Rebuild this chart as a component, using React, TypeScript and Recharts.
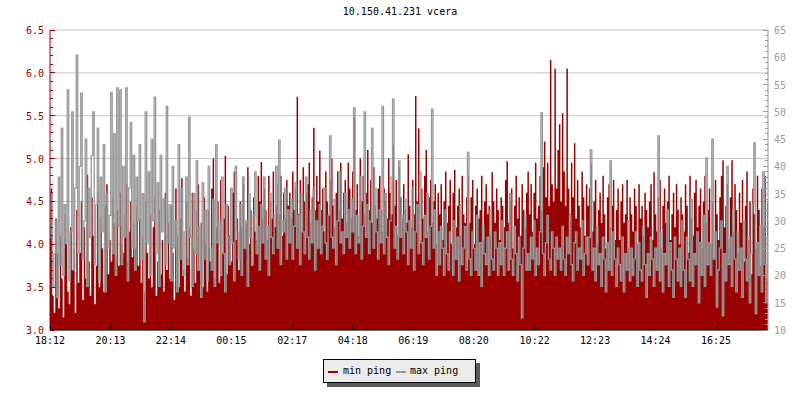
import React from 'react';
import { ComposedChart, Area, Line, XAxis, YAxis, CartesianGrid } from 'recharts';

// min ping (left axis, ms) - one value every 3 minutes, one row per hour
const minPing = [
  4.15, 4.65, 3.4, 3.2, 4.3, 3.9, 3.25, 4.1, 3.6, 3.15, 4.35, 4.0, 3.45, 3.3, 4.2, 3.7, 3.95, 3.2, 4.4, 3.55,
  3.9, 4.5, 3.35, 4.2, 3.6, 4.81, 3.8, 3.4, 4.55, 4.1, 3.3, 3.75, 4.6, 3.5, 4.3, 3.95, 3.45, 4.45, 4.7, 3.65,
  4.05, 3.8, 4.55, 4.25, 3.85, 4.4, 3.75, 4.6, 4.0, 3.9, 4.35, 4.7, 3.8, 4.15, 4.5, 3.85, 4.25, 3.95, 4.45, 3.75,
  4.3, 3.55, 4.1, 3.45, 4.5, 3.9, 3.6, 4.35, 3.5, 4.2, 4.55, 3.4, 3.8, 4.4, 3.65, 4.05, 3.45, 4.6, 3.7, 4.25,
  3.6, 4.45, 3.9, 3.35, 4.65, 4.1, 3.5, 4.3, 4.77, 3.7, 3.45, 4.5, 3.85, 4.2, 3.4, 4.6, 3.95, 3.55, 4.4, 4.7,
  3.7, 4.25, 3.5, 4.55, 4.0, 3.45, 4.4, 3.8, 4.65, 5.0, 3.6, 4.2, 4.5, 3.55, 4.75, 3.9, 4.3, 5.03, 3.65, 4.45,
  4.1, 3.8, 4.6, 4.85, 4.05, 4.3, 3.7, 4.5, 4.2, 4.7, 3.95, 4.25, 4.9, 4.0, 4.4, 3.75, 4.55, 4.15, 4.05, 4.8,
  4.5, 4.96, 4.3, 4.65, 4.4, 4.05, 4.8, 4.5, 4.3, 4.85, 4.2, 4.45, 4.7, 4.35, 4.8, 4.1, 4.6, 4.3, 4.75, 4.45,
  4.6, 4.3, 4.85, 4.4, 4.65, 5.72, 4.35, 4.75, 4.15, 4.9, 4.5, 4.6, 4.7, 4.95, 4.25, 4.55, 5.36, 4.4, 4.8, 4.5,
  5.09, 4.4, 4.65, 4.15, 4.85, 4.5, 4.35, 4.75, 5.0, 4.45, 4.2, 4.6, 4.85, 4.4, 4.95, 4.3, 4.6, 4.75, 4.25, 4.95,
  4.65, 4.3, 4.85, 5.48, 4.4, 4.7, 4.1, 5.0, 4.5, 4.8, 4.35, 4.6, 5.1, 4.4, 4.75, 4.25, 4.9, 4.45, 4.3, 4.65,
  4.8, 4.4, 4.15, 4.65, 4.5, 4.3, 5.0, 4.6, 4.35, 5.16, 4.45, 4.75, 4.1, 4.9, 4.55, 4.3, 4.7, 4.4, 4.25, 5.05,
  4.45, 4.2, 4.75, 4.35, 5.73, 4.5, 5.35, 4.05, 4.65, 4.3, 4.8, 5.1, 4.15, 4.55, 4.75, 4.25, 4.5, 4.7, 4.0, 4.6,
  4.35, 4.7, 4.05, 4.5, 4.85, 4.25, 4.45, 4.75, 4.0, 4.6, 4.87, 4.2, 4.45, 4.65, 4.1, 4.8, 4.35, 4.25, 4.55, 4.8,
  4.25, 4.55, 4.75, 4.0, 4.45, 4.65, 4.3, 4.4, 4.8, 4.05, 4.5, 4.7, 4.35, 4.45, 4.1, 4.84, 4.5, 4.25, 4.65, 4.4,
  4.05, 4.55, 4.45, 4.2, 4.75, 4.97, 4.25, 4.5, 4.65, 3.95, 4.45, 4.8, 4.3, 4.55, 4.1, 4.7, 4.4, 4.2, 4.6, 4.85,
  4.35, 4.7, 4.15, 4.6, 4.95, 4.3, 4.45, 4.8, 4.4, 4.9, 5.2, 4.55, 4.95, 4.45, 6.15, 4.7, 4.5, 6.05, 4.65, 5.1,
  5.4, 4.5, 5.53, 4.85, 4.45, 6.05, 4.65, 4.35, 4.95, 4.55, 5.18, 4.3, 4.75, 4.45, 4.2, 4.85, 4.55, 4.1, 4.7, 4.45,
  4.65, 4.94, 4.15, 4.5, 4.75, 4.0, 4.4, 4.6, 4.25, 4.8, 4.35, 3.95, 4.55, 4.7, 4.2, 4.45, 4.75, 4.05, 4.4, 4.65,
  4.05, 4.5, 4.7, 4.25, 4.35, 4.75, 3.95, 4.55, 4.35, 4.15, 4.65, 4.45, 4.0, 4.7, 4.3, 4.45, 4.1, 4.6, 4.4, 4.2,
  4.5, 4.7, 4.05, 4.84, 4.35, 4.15, 4.55, 4.75, 3.95, 4.45, 4.65, 4.25, 4.5, 4.8, 4.05, 4.35, 4.6, 4.2, 4.7, 4.4,
  4.0, 4.55, 4.35, 4.15, 4.7, 4.45, 3.9, 4.8, 4.3, 4.1, 4.6, 4.75, 4.2, 4.45, 4.65, 3.95, 4.5, 4.8, 4.25, 4.4,
  4.65, 4.0, 4.5, 3.85, 4.75, 4.35, 4.05, 4.55, 4.8, 4.98, 4.2, 4.45, 4.7, 3.95, 4.55, 4.98, 4.15, 4.7, 4.4, 3.9,
  4.6, 4.25, 4.75, 3.8, 4.45, 4.85, 4.05, 4.5, 3.65, 4.65, 4.35, 3.95, 4.8, 4.4, 3.75, 4.65, 4.2, 4.8, 3.6, 4.5,
];

// max ping (right axis, ms)
const maxPing = [
  27, 35, 18, 24, 30, 16, 38, 22, 47, 20, 33, 26, 54, 19, 28, 50, 21, 36, 60.4, 24,
  40, 53.4, 23, 30, 45, 18, 36, 27, 42, 50, 22, 33, 47, 19, 38, 28, 44, 17, 35, 25,
  31, 53.5, 24, 46, 20, 54.4, 29, 54, 22, 40, 27, 54.4, 19, 36, 48, 25, 42, 21, 38, 30,
  44, 23, 35, 11.5, 50, 26, 39, 20, 45, 30, 52.7, 24, 37, 18, 42, 28, 34, 22, 51, 26,
  33, 19, 40, 25, 30, 17, 44, 23, 36, 20, 28, 38, 22, 49, 27, 18, 35, 24, 41, 21,
  29, 16, 37, 23, 32, 19, 40, 25, 21, 34, 18, 44, 26, 30, 20, 38, 24, 17, 33, 27,
  22, 36, 26, 19, 40, 28, 23, 33, 20, 38, 25, 30, 18, 35, 27, 22, 31, 39, 24, 29,
  21, 33, 26, 38, 23, 29, 20, 35, 27, 24, 31, 40, 25, 44.8, 22, 30, 28, 36, 23, 32,
  26, 34, 23, 29, 37, 25, 31, 22, 35, 28, 24, 38, 27, 23, 32, 26, 36, 21, 30, 25,
  33, 24, 29, 36, 26, 23, 31, 45.6, 27, 25, 34, 22, 30, 39, 26, 28, 24, 35, 27, 32,
  25, 34, 28, 50.7, 24, 31, 26, 38, 23, 29, 50, 27, 33, 24, 30, 47, 25, 36, 28, 23,
  32, 26, 51, 24, 35, 27, 22, 30, 38, 52.3, 25, 29, 23, 41, 27, 31, 24, 34, 28, 22,
  30, 25, 36, 21, 28, 33, 24, 39, 26, 22, 31, 27, 35, 23, 29, 50.5, 25, 32, 20, 28,
  22, 29, 25, 20, 32, 24, 21, 28, 26, 20, 30, 23, 27, 19, 33, 22, 25, 29, 21, 42.6,
  23, 20, 28, 25, 21, 31, 20, 26, 18, 29, 24, 22, 27, 20, 32, 23, 21, 28, 25, 20,
  26, 22, 30, 20, 25, 28, 21, 35, 23, 20, 29, 24, 19, 27, 22, 12.2, 25, 31, 21, 24,
  21, 27, 23, 30, 20, 25, 22, 28, 49.8, 24, 20, 26, 31, 23, 21, 28, 25, 20, 27, 23,
  25, 21, 29, 23, 20, 27, 24, 31, 22, 19, 26, 28, 21, 25, 23, 30, 20, 24, 27, 22,
  27, 43, 21, 25, 19, 29, 22, 24, 18, 27, 23, 17, 26, 21, 41, 20, 28, 23, 18, 25,
  22, 19, 27, 17, 24, 21, 30, 19, 25, 20, 23, 28, 18, 26, 21, 19, 29, 22, 16, 24,
  20, 27, 23, 18, 25, 21, 45.6, 19, 28, 17, 24, 22, 32, 18, 26, 21, 16, 27, 23, 19,
  25, 18, 30, 21, 16, 27, 23, 19, 34, 18, 24, 22, 28, 15, 26, 20, 31, 18, 41.5, 22,
  26, 20, 45, 23, 28, 14.2, 21, 25, 30, 12.6, 24, 19, 40, 22, 27, 18, 32, 23, 17, 28,
  21, 25, 16, 30, 23, 19, 27, 15, 24, 33, 44.3, 13, 26, 20, 29, 17, 39, 22, 15, 27,
];

const stepMinutes = 3;
const timeTicks = [0, 121, 242, 363, 485, 606, 727, 848, 970, 1091, 1212, 1333];
const timeLabels = ['18:12', '20:13', '22:14', '00:15', '02:17', '04:18', '06:19', '08:20', '10:22', '12:23', '14:24', '16:25'];
const leftDomain = [3, 6.5];
const leftLabels = [3.0, 3.5, 4.0, 4.5, 5.0, 5.5, 6.0, 6.5];
const rightLabels = [10, 15, 20, 25, 30, 35, 40, 45, 50, 55, 60, 65];

const data = minPing.map((v, i) => ({ t: i * stepMinutes, min: v, max: maxPing[i] }));

// minor ticks: every 0.1 on the left, every 1 on the right
const leftTicks = Array.from({ length: 36 }, (_, i) => Math.round((3 + i * 0.1) * 10) / 10);
const rightTicks = Array.from({ length: 56 }, (_, i) => 10 + i);

const RED = '#990000';
const GRAY = '#999999';
const FONT = '"DejaVu Sans Mono", monospace';

const LeftTick = ({ x, y, payload }: any) => {
  const v = payload.value;
  const major = leftLabels.some((l) => Math.abs(l - v) < 1e-6);
  return (
    <g>
      <line x1={x} x2={x + (major ? 5 : 3)} y1={y} y2={y} stroke={RED} shapeRendering="crispEdges" />
      {major && (
        <text x={x - 6} y={y} dy={4} textAnchor="end" fill={RED} fontSize={10} fontFamily={FONT}>
          {v.toFixed(1)}
        </text>
      )}
    </g>
  );
};

const RightTick = ({ x, y, payload }: any) => {
  const v = payload.value;
  const major = rightLabels.includes(v);
  return (
    <g>
      <line x1={x - (major ? 5 : 3)} x2={x} y1={y} y2={y} stroke={GRAY} shapeRendering="crispEdges" />
      {major && (
        <text x={x + 6} y={y} dy={4} textAnchor="start" fill={GRAY} fontSize={10} fontFamily={FONT}>
          {v}
        </text>
      )}
    </g>
  );
};

const TimeTick = ({ x, y, payload, index }: any) => (
  <g>
    <line x1={x} x2={x} y1={y} y2={y - 4} stroke="#000" shapeRendering="crispEdges" />
    <text x={x} y={y + 14} textAnchor="middle" fill="#000" fontSize={10} fontFamily={FONT}>
      {timeLabels[timeTicks.indexOf(payload.value)] ?? timeLabels[index]}
    </text>
  </g>
);

// grid rows at the labelled left-axis values
const gridRows = ({ offset }: any) =>
  leftLabels.map(
    (v) => offset.top + (offset.height * (leftDomain[1] - v)) / (leftDomain[1] - leftDomain[0])
  );

const LegendBox = () => (
  <div style={{ position: 'absolute', left: 323, top: 359, width: 157, height: 28, fontFamily: FONT, fontSize: 10 }}>
    <div style={{ position: 'absolute', left: 4, top: 4, width: 153, height: 24, background: '#5a5a5a' }} />
    <div
      style={{
        position: 'absolute', left: 0, top: 0, width: 151, height: 22,
        border: '1px solid #000', background: '#ebebeb',
      }}
    >
      <span style={{ position: 'absolute', left: 4, top: 11, width: 10, height: 2, background: RED }} />
      <span style={{ position: 'absolute', left: 19, top: 5, lineHeight: '12px' }}>min ping</span>
      <span style={{ position: 'absolute', left: 72, top: 11, width: 10, height: 2, background: GRAY }} />
      <span style={{ position: 'absolute', left: 86, top: 5, lineHeight: '12px' }}>max ping</span>
    </div>
  </div>
);

export default function App() {
  return (
    <div style={{ position: 'absolute', left: 0, top: 0, width: 800, height: 400, background: '#fff' }}>
      <div
        style={{
          position: 'absolute', left: 0, top: 6, width: 800, textAlign: 'center',
          fontFamily: FONT, fontSize: 10, color: '#000',
        }}
      >
        10.150.41.231 vcera
      </div>
      <ComposedChart width={800} height={400} data={data} margin={{ top: 30, right: 0, bottom: 50, left: 0 }}>
        <CartesianGrid
          vertical={false}
          stroke="#c4c4c4"
          horizontalCoordinatesGenerator={gridRows}
        />
        <XAxis
          dataKey="t"
          type="number"
          domain={['dataMin', 'dataMax']}
          ticks={timeTicks}
          interval={0}
          height={20}
          stroke="#000"
          tickLine={false}
          tickSize={0}
          tickMargin={0}
          tick={<TimeTick />}
        />
        <YAxis
          domain={leftDomain}
          ticks={leftTicks}
          interval={0}
          width={50}
          stroke={RED}
          tickLine={false}
          tickSize={0}
          tickMargin={0}
          tick={<LeftTick />}
          allowDataOverflow
        />
        <YAxis
          yAxisId="r"
          orientation="right"
          domain={[10, 65]}
          ticks={rightTicks}
          interval={0}
          width={32}
          stroke={GRAY}
          tickLine={false}
          tickSize={0}
          tickMargin={0}
          tick={<RightTick />}
          allowDataOverflow
        />
        <Area
          dataKey="min"
          name="min ping"
          type="step"
          baseValue={3}
          fill={RED}
          fillOpacity={1}
          stroke="none"
          isAnimationActive={false}
        />
        <Line
          dataKey="max"
          name="max ping"
          yAxisId="r"
          type="step"
          stroke={GRAY}
          strokeWidth={1.3}
          strokeLinejoin="miter"
          dot={false}
          activeDot={false}
          isAnimationActive={false}
        />
      </ComposedChart>
      <LegendBox />
    </div>
  );
}
